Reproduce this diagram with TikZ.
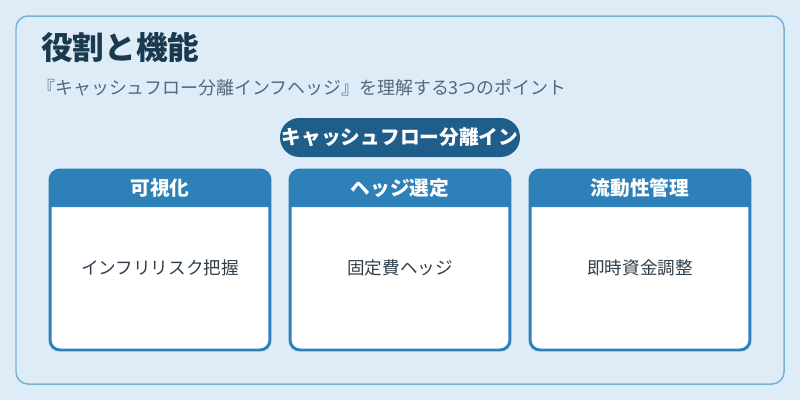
\documentclass[tikz,border=0pt]{standalone}
\usepackage{fontspec}
\setmainfont{Noto Sans CJK JP}
\definecolor{bgblue}{HTML}{DDECF7}
\definecolor{frameblue}{HTML}{7BB1D5}
\definecolor{pillblue}{HTML}{1F5E8A}
\definecolor{cardblue}{HTML}{2E80B8}
\definecolor{titleink}{HTML}{1B3A50}
\definecolor{subink}{HTML}{55687A}
\definecolor{bodyink}{HTML}{2F3E4C}
\begin{document}
\begin{tikzpicture}[x=0.02cm, y=-0.02cm,
    card/.style={draw=cardblue, line width=1.7pt, fill=white, rounded corners=5.6pt,
        minimum width=4.4cm, minimum height=3.6cm, inner sep=0pt},
    headtxt/.style={text=white, font=\fontsize{11.2pt}{13pt}\selectfont\bfseries},
    bodytxt/.style={text=bodyink, font=\fontsize{10pt}{12pt}\selectfont}]
    % 背景と外枠
    \fill[bgblue] (0,0) rectangle (800,400);
    \draw[frameblue, line width=0.85pt, fill=bgblue, rounded corners=6.8pt] (16,16) rectangle (784,384);

    % 見出し
    \node[anchor=west, text=titleink, font=\fontsize{18pt}{21pt}\selectfont\bfseries, inner sep=0pt]
        (title) at (41,47) {役割と機能};
    \node[anchor=west, text=subink, font=\fontsize{10.2pt}{12pt}\selectfont, inner sep=0pt]
        (subtitle) at (37,88) {『キャッシュフロー分離インフヘッジ』を理解する3つのポイント};

    % 中央のラベル
    \node[fill=pillblue, rounded corners=11pt, minimum width=4.8cm, minimum height=0.78cm,
        inner sep=0pt, text=white, font=\fontsize{11.2pt}{13pt}\selectfont\bfseries]
        (pill) at (400,137.5) {キャッシュフロー分離イン};

    % 三つのカード
    \foreach \head/\body [count=\i] in {可視化/インフリリスク把握, ヘッジ選定/固定費ヘッジ, 流動性管理/即時資金調整}{
        \pgfmathsetmacro\xl{50+240*(\i-1)}
        \pgfmathsetmacro\xr{\xl+220}
        \pgfmathsetmacro\cx{\xl+110}
        \node[card] (card\i) at (\cx,260) {};
        \fill[cardblue] (\xl,207) [rounded corners=5.6pt] -- (\xl,170) -- (\xr,170) [sharp corners] -- (\xr,207) -- cycle;
        \node[headtxt] (head\i) at (\cx,188.5) {\head};
        \node[bodytxt] (body\i) at (\cx,267.5) {\body};
    }
\end{tikzpicture}
\end{document}
